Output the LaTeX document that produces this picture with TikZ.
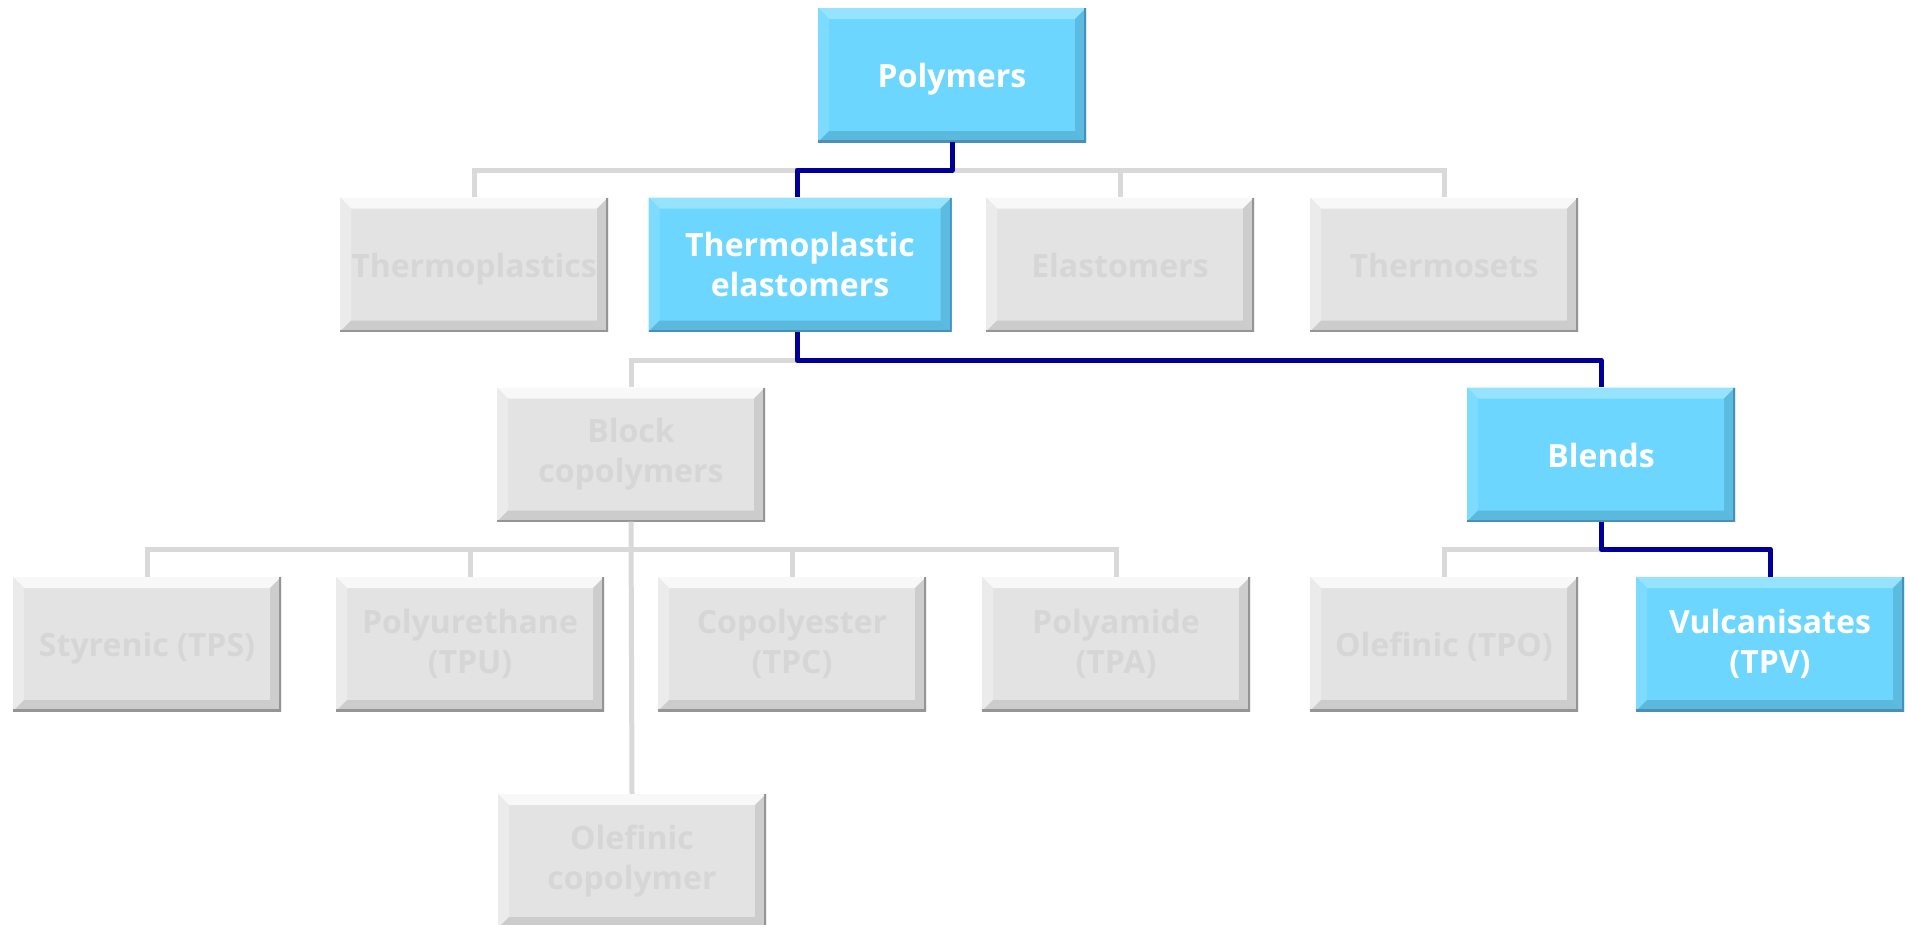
\documentclass[tikz,border=0pt]{standalone}
\usepackage{fontspec}
\setmainfont{Open Sans}
\definecolor{gFill}{HTML}{E3E3E3}
\definecolor{gText}{HTML}{D6D6D6}
\definecolor{gTop}{HTML}{F8F8F8}
\definecolor{gLeft}{HTML}{EBEBEB}
\definecolor{gRight}{HTML}{CDCDCD}
\definecolor{gBot}{HTML}{CCCCCC}
\definecolor{gEdge}{HTML}{959595}
\definecolor{bFill}{HTML}{6DD6FE}
\definecolor{bTop}{HTML}{95E3FF}
\definecolor{bLeft}{HTML}{7CDBFF}
\definecolor{bRight}{HTML}{5CBBE0}
\definecolor{bBot}{HTML}{5BB9DE}
\definecolor{bEdge}{HTML}{4A90B6}
\definecolor{cLine}{HTML}{D9D9D9}
\definecolor{cNavy}{HTML}{000099}
\tikzset{
  bevel/.style n args={5}{path picture={
    \fill[#1] (path picture bounding box.north west) -- (path picture bounding box.north east) -- ([shift={(-11pt,-11pt)}]path picture bounding box.north east) -- ([shift={(11pt,-11pt)}]path picture bounding box.north west) -- cycle;
    \fill[#2] (path picture bounding box.north west) -- ([shift={(11pt,-11pt)}]path picture bounding box.north west) -- ([shift={(11pt,11pt)}]path picture bounding box.south west) -- (path picture bounding box.south west) -- cycle;
    \fill[#3] (path picture bounding box.north east) -- ([shift={(-11pt,-11pt)}]path picture bounding box.north east) -- ([shift={(-11pt,11pt)}]path picture bounding box.south east) -- (path picture bounding box.south east) -- cycle;
    \fill[#4] (path picture bounding box.south west) -- (path picture bounding box.south east) -- ([shift={(-11pt,11pt)}]path picture bounding box.south east) -- ([shift={(11pt,11pt)}]path picture bounding box.south west) -- cycle;
    \draw[#5, line width=3.5pt] (path picture bounding box.south west) -- (path picture bounding box.south east) -- (path picture bounding box.north east);
  }},
  box/.style={minimum width=268pt, minimum height=134pt, inner sep=0pt, align=center,
    font=\fontsize{32}{40}\selectfont\bfseries},
  oneline/.style={text height=27pt, text depth=2pt},
  gbox/.style={box, fill=gFill, text=gText, bevel={gTop}{gLeft}{gRight}{gBot}{gEdge}},
  bbox/.style={box, fill=bFill, text=white, bevel={bTop}{bLeft}{bRight}{bBot}{bEdge}},
  gl/.style={draw=cLine, line width=5pt},
  bl/.style={draw=cNavy, line width=5pt, line join=round},
}
\begin{document}
\begin{tikzpicture}[x=1pt, y=-1pt]
\useasboundingbox (0,0) rectangle (1905,924);
\clip (0,0) rectangle (1905,924);
% rows
\node[bbox, oneline] (pol) at (952,75) {Polymers};
\node[gbox, oneline] (th) at (474,264.5) {Thermoplastics};
\node[bbox, minimum width=303pt] (tpe) at (800,264.5) {Thermoplastic\\elastomers};
\node[gbox, oneline] (el) at (1120,264.5) {Elastomers};
\node[gbox, oneline] (ts) at (1444,264.5) {Thermosets};
\node[gbox] (bc) at (631,454.5) {Block\\copolymers};
\node[bbox, oneline] (bln) at (1601,454.5) {Blends};
\node[gbox, oneline] (sty) at (147,644) {Styrenic (TPS)};
\node[gbox] (pu) at (470,644) {Polyurethane\\(TPU)};
\node[gbox] (cp) at (792,644) {Copolyester\\(TPC)};
\node[gbox] (pa) at (1116,644) {Polyamide\\(TPA)};
\node[gbox, oneline] (tpo) at (1444,644) {Olefinic (TPO)};
\node[bbox] (tpv) at (1770,644) {Vulcanisates\\(TPV)};
\node[gbox] (oc) at (632,861) {Olefinic\\copolymer};
% bus levels and drop points
\coordinate (r1) at (0,170);
\coordinate (r2) at (0,360);
\coordinate (r3) at (0,549);
\coordinate (tpex) at (797,0);
% gray connectors
\draw[gl] (th.north) -- (th.north |- r1) -- (ts.north |- r1) -- (ts.north);
\draw[gl] (el.north) -- (el.north |- r1);
\draw[gl] (tpex |- r2) -- (bc.north |- r2) -- (bc.north);
\draw[gl] (sty.north) -- (sty.north |- r3) -- (pa.north |- r3) -- (pa.north);
\draw[gl] (pu.north) -- (pu.north |- r3);
\draw[gl] (cp.north) -- (cp.north |- r3);
\draw[gl] (bc.south) -- (oc.north);
\draw[gl] (tpo.north) -- (tpo.north |- r3) -- (bln.south |- r3);
% highlighted path
\draw[bl] (pol.south) -- (pol.south |- r1) -- (tpex |- r1) -- (tpex |- tpe.north);
\draw[bl] (tpex |- tpe.south) -- (tpex |- r2) -- (bln.north |- r2) -- (bln.north);
\draw[bl] (bln.south) -- (bln.south |- r3) -- (tpv.north |- r3) -- (tpv.north);
\end{tikzpicture}
\end{document}
